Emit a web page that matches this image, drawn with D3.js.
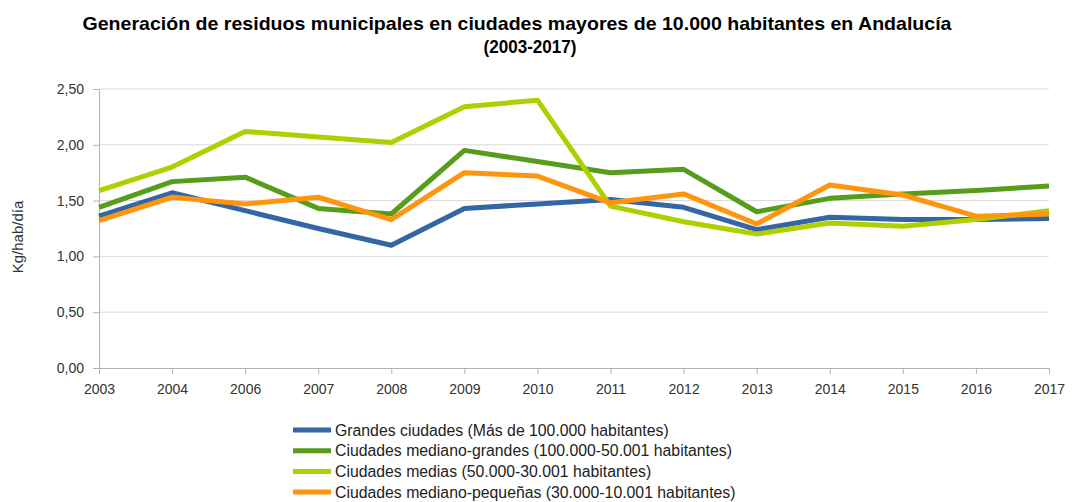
<!DOCTYPE html>
<html>
<head>
<meta charset="utf-8">
<script src="https://cdn.jsdelivr.net/npm/d3@7"></script>
<style>
  body { margin: 0; background: #fff; }
  svg { font-family: "Liberation Sans", Arial, sans-serif; }
  .grid line { stroke: #d9d9d9; }
  .axis path, .axis line { stroke: #b3b3b3; }
</style>
</head>
<body>
<svg id="chart"></svg>
<script>
const years = ['2003', '2004', '2006', '2007', '2008', '2009', '2010', '2011', '2012', '2013', '2014', '2015', '2016', '2017'];
const grandes = [1.36, 1.57, 1.41, 1.25, 1.10, 1.43, 1.47, 1.51, 1.44, 1.24, 1.35, 1.33, 1.33, 1.34];
const medianoGrandes = [1.44, 1.67, 1.71, 1.43, 1.38, 1.95, 1.85, 1.75, 1.78, 1.40, 1.52, 1.56, 1.59, 1.63];
const medias = [1.59, 1.80, 2.12, 2.07, 2.02, 2.34, 2.40, 1.45, 1.31, 1.20, 1.30, 1.27, 1.33, 1.41];
const medianoPequenas = [1.32, 1.53, 1.47, 1.53, 1.33, 1.75, 1.72, 1.48, 1.56, 1.29, 1.64, 1.55, 1.36, 1.38];
const seriesNames = [
  'Grandes ciudades (Más de 100.000 habitantes)',
  'Ciudades mediano-grandes (100.000-50.001 habitantes)',
  'Ciudades medias (50.000-30.001 habitantes)',
  'Ciudades mediano-pequeñas (30.000-10.001 habitantes)'
];
const colors = ['#3465a4', '#579d1c', '#aecf00', '#ff950e'];
const yTicks = [0, 0.5, 1, 1.5, 2, 2.5];

const width = 1078, height = 502;
const margin = {top: 89, right: 29, bottom: 134, left: 99};
const innerW = width - margin.left - margin.right;
const innerH = height - margin.top - margin.bottom;

const svg = d3.select('#chart').attr('width', width).attr('height', height);

const series = [grandes, medianoGrandes, medias, medianoPequenas].map((vals, i) => ({
  name: seriesNames[i],
  color: colors[i],
  values: vals.map((v, j) => ({year: years[j], value: v}))
}));

const x = d3.scalePoint().domain(years).range([0, innerW]);
const y = d3.scaleLinear().domain([0, 2.5]).range([innerH, 0]);
const fmt = d => d3.format('.2f')(d).replace('.', ',');

const chart = svg.append('g').attr('transform', `translate(${margin.left},${margin.top})`);

// horizontal grid
chart.append('g').attr('class', 'grid')
  .selectAll('line').data(yTicks.slice(1)).join('line')
  .attr('x1', 0).attr('x2', innerW)
  .attr('y1', d => y(d)).attr('y2', d => y(d));

// axes
chart.append('g').attr('class', 'axis')
  .call(d3.axisLeft(y).tickValues(yTicks).tickFormat(fmt).tickSize(6).tickSizeOuter(0).tickPadding(9));

chart.append('g').attr('class', 'axis')
  .attr('transform', `translate(0,${innerH})`)
  .call(d3.axisBottom(x).tickSize(6).tickSizeOuter(0).tickPadding(10));

chart.selectAll('.axis text').attr('fill', '#333').style('font-size', '14px');

// lines
const line = d3.line().x(d => x(d.year)).y(d => y(d.value));
chart.selectAll('.series').data(series).join('path')
  .attr('class', 'series')
  .attr('fill', 'none')
  .attr('stroke', d => d.color)
  .attr('stroke-width', 5)
  .attr('stroke-linejoin', 'round')
  .attr('d', d => line(d.values));

// y label
svg.append('text')
  .attr('transform', `translate(23,237) rotate(-90)`)
  .attr('text-anchor', 'middle')
  .style('font-size', '15px').attr('fill', '#333')
  .text('Kg/hab/día');

// title (the original uses a tall, slightly condensed bold face)
const title = svg.append('text')
  .attr('text-anchor', 'middle')
  .style('font-size', '19px').style('font-weight', 'bold').attr('fill', '#000');
title.append('tspan').attr('x', 517).attr('y', 30)
  .attr('textLength', 869).attr('lengthAdjust', 'spacingAndGlyphs')
  .text('Generación de residuos municipales en ciudades mayores de 10.000 habitantes en Andalucía');
title.append('tspan').attr('x', 530).attr('y', 53)
  .attr('textLength', 93).attr('lengthAdjust', 'spacingAndGlyphs')
  .text('(2003-2017)');

// legend
const legend = svg.append('g').attr('transform', 'translate(293,430)');
const rows = legend.selectAll('g').data(series).join('g')
  .attr('transform', (d, i) => `translate(0,${i * 20.7})`);
rows.append('line')
  .attr('x1', 0).attr('x2', 38).attr('y1', 0).attr('y2', 0)
  .attr('stroke', d => d.color).attr('stroke-width', 5);
rows.append('text')
  .attr('x', 42).attr('y', 5.5)
  .style('font-size', '15.8px').attr('fill', '#222')
  .text(d => d.name);
</script>
</body>
</html>
